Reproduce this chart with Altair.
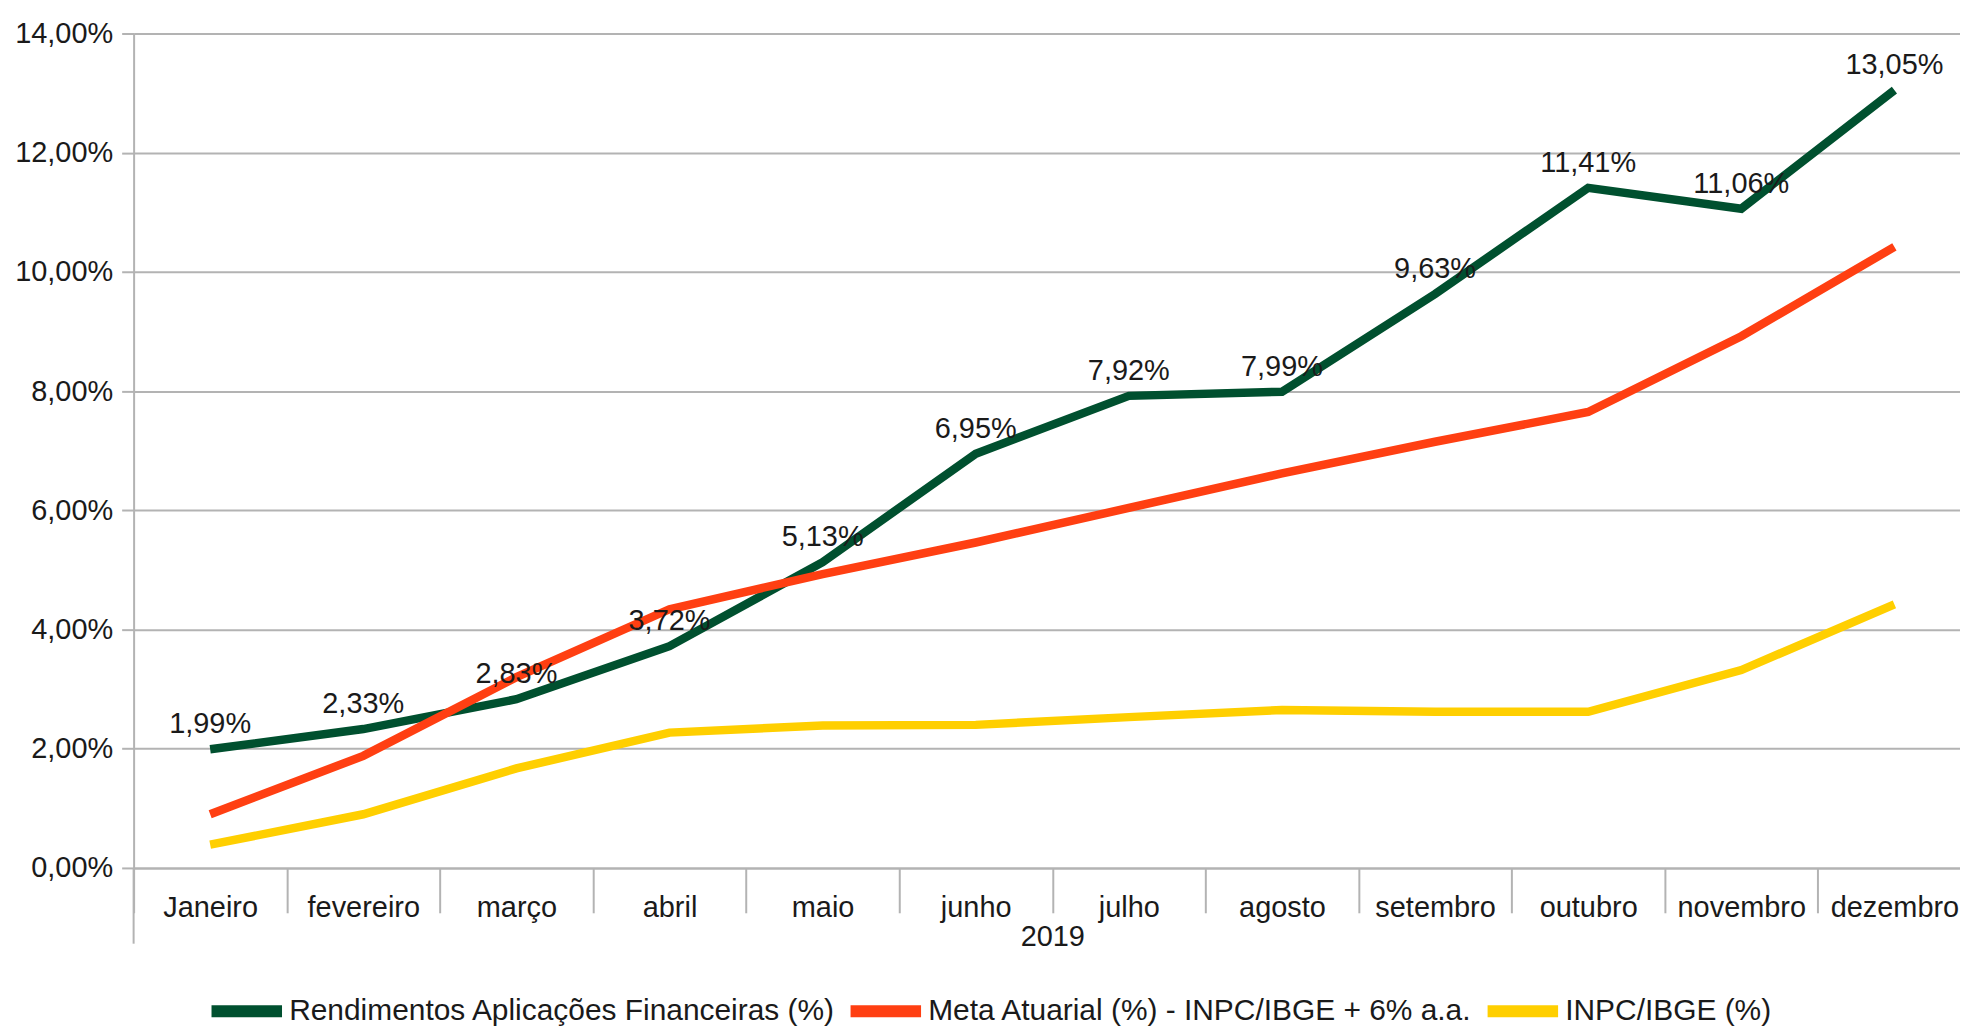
import altair as alt
import pandas as pd

months = ["Janeiro", "fevereiro", "março", "abril", "maio", "junho",
          "julho", "agosto", "setembro", "outubro", "novembro", "dezembro"]
series_names = ["Rendimentos Aplicações Financeiras (%)",
                "Meta Atuarial (%) - INPC/IBGE + 6% a.a.",
                "INPC/IBGE (%)"]
rendimentos = [1.99, 2.33, 2.83, 3.72, 5.13, 6.95, 7.92, 7.99, 9.63, 11.41, 11.06, 13.05]
meta = [0.90, 1.88, 3.20, 4.34, 4.93, 5.46, 6.04, 6.62, 7.15, 7.65, 8.92, 10.42]
inpc = [0.39, 0.90, 1.67, 2.27, 2.39, 2.40, 2.53, 2.65, 2.62, 2.62, 3.32, 4.42]
colors = ["#00502f", "#ff3f12", "#ffcf00"]
y_ticks = [0, 2, 4, 6, 8, 10, 12, 14]
x_title = "2019"

rows = []
for name, vals in zip(series_names, [rendimentos, meta, inpc]):
    for m, v in zip(months, vals):
        rows.append({"month": m, "series": name, "value": v,
                     "label": f"{v:.2f}".replace(".", ",") + "%"})
df = pd.DataFrame(rows)
labels_df = df[df["series"] == series_names[0]]

GRID = "#b3b3b3"
TXT = "#1a1a1a"
FS = 29

x_enc = alt.X(
    "month:N", sort=months, bandPosition=0.5,
    scale=alt.Scale(type="band", paddingInner=0, paddingOuter=0),
    axis=alt.Axis(
        title=x_title, titleFontSize=FS, titleFontWeight="normal", titleColor=TXT,
        titleY=55, titleBaseline="top",
        labelAngle=0, labelFontSize=FS, labelColor=TXT, labelPadding=-19,
        tickBand="extent", tickSize=45, tickColor=GRID, tickWidth=2,
        domainColor=GRID, domainWidth=2, grid=False, labelLimit=400,
    ),
)
y_enc = alt.Y(
    "value:Q",
    scale=alt.Scale(domain=[0, 14], nice=False),
    axis=alt.Axis(
        title=None, values=y_ticks,
        labelExpr="replace(format(datum.value, '.2f'), '.', ',') + '%'",
        labelFontSize=FS, labelColor=TXT, labelPadding=9,
        tickSize=12, tickColor=GRID, tickWidth=2,
        domainColor=GRID, domainWidth=2,
        grid=True, gridColor=GRID, gridWidth=2,
    ),
)

lines = alt.Chart(df).mark_line(strokeWidth=8.5).encode(
    x=x_enc,
    y=y_enc,
    color=alt.Color(
        "series:N",
        scale=alt.Scale(domain=series_names, range=colors),
        legend=alt.Legend(
            title=None, orient="none", direction="horizontal",
            legendX=72, legendY=939,
            symbolType="stroke", symbolSize=5000, symbolStrokeWidth=12,
            labelFontSize=30, labelColor=TXT, labelLimit=1000,
            labelOffset=1, columnPadding=-10,
        ),
    ),
    order=alt.Order("series:N"),
)

texts = alt.Chart(labels_df).mark_text(
    dy=-25, fontSize=FS, color=TXT, baseline="middle", align="center"
).encode(
    x=alt.X("month:N", sort=months, bandPosition=0.5),
    y=alt.Y("value:Q"),
    text="label:N",
)

axis_ext = alt.Chart(pd.DataFrame({"a": [0]})).mark_rule(
    color=GRID, strokeWidth=2
).encode(
    x=alt.value(0), y=alt.value(837), y2=alt.value(913)
)

chart = alt.layer(lines, texts, axis_ext).properties(
    width=1843, height=837,
    padding={"left": 126, "top": 24, "right": -11, "bottom": 158},
    autosize=alt.AutoSizeParams(type="none"),
).configure(font="Liberation Sans").configure_view(stroke=None)

chart.save("out.html", embed_options={"renderer": "svg", "actions": False})
